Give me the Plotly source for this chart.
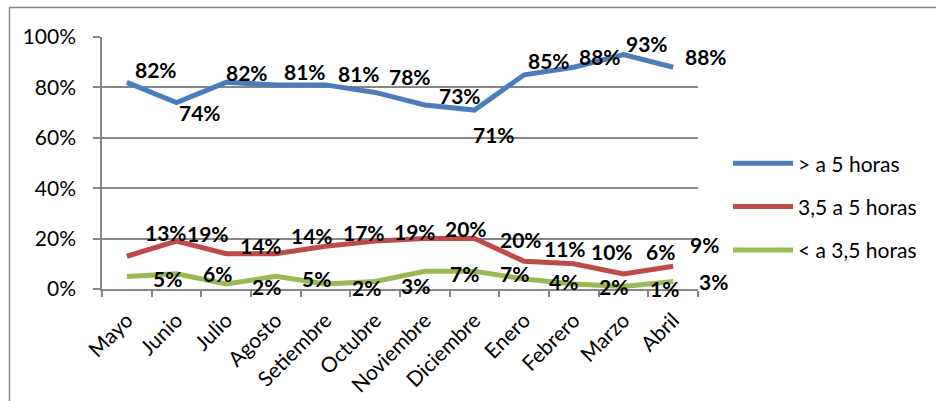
import plotly.graph_objects as go

# ---------------- data ----------------
months = ["Mayo", "Junio", "Julio", "Agosto", "Setiembre", "Octubre",
          "Noviembre", "Diciembre", "Enero", "Febrero", "Marzo", "Abril"]
mas_5 = [82, 74, 82, 81, 81, 78, 73, 71, 85, 88, 93, 88]
de_35_a_5 = [13, 19, 14, 14, 17, 19, 20, 20, 11, 10, 6, 9]
menos_35 = [5, 6, 2, 5, 2, 3, 7, 7, 4, 2, 1, 3]
series_names = ["> a 5 horas", "3,5 a 5 horas", "< a 3,5 horas"]
y_ticks = [0, 20, 40, 60, 80, 100]
y_tick_labels = [f"{v}%" for v in y_ticks]

# ---------------- style ----------------
colors = ["#4A7EBB", "#BE4B48", "#98B954"]
FONT = "Lato"
# label offsets in px (dx right, dy up) relative to each point
blue_off = [(6, 13), (0, -10), (-2, 10), (6, 13), (10, 11), (12, 16),
            (12, 10), (-4, -24), (2, 14), (3, 11), (0, 11), (10, 11)]
red_off = [(16, 24), (8, 8), (12, 8), (13, 18), (15, 14), (17, 10),
           (18, 10), (23, -1), (18, 13), (15, 12), (20, 22), (15, 22)]
green_off = [(24, -2), (24, 0), (24, -3), (24, -2), (24, -4), (24, -4),
             (23, -2), (23, -2), (23, -3), (23, -3), (24, -2), (24, 0)]

all_series = [mas_5, de_35_a_5, menos_35]
all_off = [blue_off, red_off, green_off]

fig = go.Figure()
for name, vals, col in zip(series_names, all_series, colors):
    fig.add_trace(go.Scatter(
        x=months, y=vals, mode="lines", name=name, legendgroup=name,
        line=dict(color=col, width=5), hoverinfo="skip"))

annotations = []
for vals, offs in zip(all_series, all_off):
    for m, v, (dx, dy) in zip(months, vals, offs):
        annotations.append(dict(
            x=m, y=v, xref="x", yref="y", text=f"<b>{v}%</b>",
            showarrow=False, xanchor="left", yanchor="middle",
            xshift=dx, yshift=dy,
            font=dict(family=FONT, size=21, color="#000000")))

W, H = 936, 401
L, R, T, B = 102, 238, 37, 111.5
pw, ph = W - L - R, H - T - B

def px_x(x):
    return (x - L) / pw

def px_y(y):
    return (H - B - y) / ph

fig.update_layout(
    width=W, height=H,
    margin=dict(l=L, r=R, t=T, b=B, pad=0, autoexpand=False),
    paper_bgcolor="white", plot_bgcolor="white",
    font=dict(family=FONT, size=21, color="#000000"),
    showlegend=True,
    legend=dict(x=px_x(728), y=px_y(207), xanchor="left", yanchor="middle",
                font=dict(family=FONT, size=21, color="#000000"),
                bgcolor="rgba(0,0,0,0)", tracegroupgap=13, itemwidth=60),
    annotations=annotations,
    shapes=[dict(type="rect", xref="paper", yref="paper",
                 x0=px_x(9.5), x1=px_x(W + 10), y0=px_y(H + 10), y1=px_y(7.5),
                 line=dict(color="#868686", width=1.5), layer="below")],
)
fig.update_xaxes(
    type="category", tickangle=-45, showgrid=False, automargin=False,
    showline=True, linecolor="#868686", linewidth=1.5,
    ticks="outside", tickson="boundaries", ticklen=6, tickcolor="#868686",
    tickwidth=1.5, ticklabelstandoff=9,
    tickfont=dict(family=FONT, size=21, color="#000000"),
    range=[-0.5, len(months) - 0.5])
fig.update_yaxes(
    range=[0, 100], tickvals=y_ticks, ticktext=y_tick_labels, automargin=False,
    showgrid=True, gridcolor="#868686", gridwidth=1.5,
    showline=True, linecolor="#868686", linewidth=1.5,
    ticks="outside", ticklen=7, tickcolor="#868686", tickwidth=1.5,
    ticklabelstandoff=13, zeroline=False,
    tickfont=dict(family=FONT, size=21, color="#000000"))

fig.write_html("out.html")
